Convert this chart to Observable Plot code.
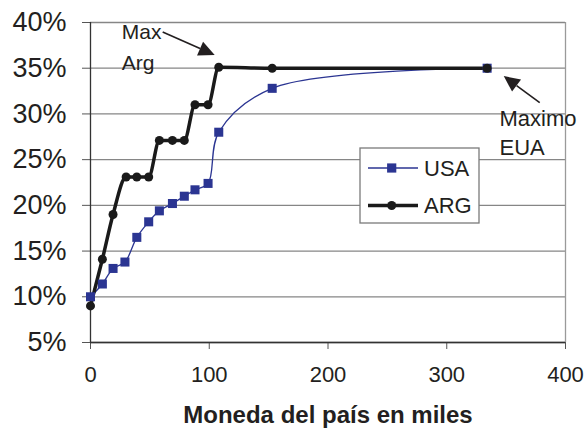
<!DOCTYPE html>
<html>
<head>
<meta charset="utf-8">
<script src="https://cdn.jsdelivr.net/npm/d3@7"></script>
<script src="https://cdn.jsdelivr.net/npm/@observablehq/plot@0.6"></script>
<style>
  html, body { margin: 0; padding: 0; background: #fff; }
  #chart svg { display: block; }
</style>
</head>
<body>
<div id="chart"></div>
<script>
// ---- data ----
const usaX = [0, 10, 19, 29, 39, 49, 58, 69, 79, 88, 99, 108, 153, 334];
const usaY = [10, 11.4, 13.1, 13.8, 16.5, 18.2, 19.4, 20.2, 21, 21.7, 22.4, 28, 32.8, 35];
const argX = [0, 10, 19, 30, 39, 49, 58, 69, 79, 88, 99, 108, 153, 334];
const argY = [9, 14.1, 19, 23.1, 23.1, 23.1, 27.1, 27.1, 27.1, 31, 31, 35.1, 35, 35];
const yTicks = [5, 10, 15, 20, 25, 30, 35, 40];
const xTicks = [0, 100, 200, 300, 400];
const seriesNames = ["USA", "ARG"];
const xTitle = "Moneda del país en miles";

const usa = usaX.map((x, i) => ({x, y: usaY[i]}));
const arg = argX.map((x, i) => ({x, y: argY[i]}));

const ink = "#231f20";
const blue = "#2b3592";
const dark = "#1a1a1a";
const grid = "#868686";
const font = "'Liberation Sans', Arial, sans-serif";

const plot = Plot.plot({
  width: 584,
  height: 428,
  marginLeft: 90,
  marginRight: 19,
  marginTop: 22,
  marginBottom: 86,
  style: {fontFamily: font, color: ink, background: "#fff", overflow: "visible"},
  x: {domain: [0, 400]},
  y: {domain: [5, 40]},
  marks: [
    Plot.ruleY(yTicks, {stroke: grid, strokeWidth: 1.3}),
    Plot.ruleX([400], {stroke: "#9a9a9a", strokeWidth: 1.3}),
    Plot.axisY({ticks: yTicks, tickSize: 8, tickPadding: 16, fontSize: 27, tickFormat: d => d + "%", label: null, stroke: "#555", fill: ink}),
    Plot.axisX({ticks: xTicks, tickSize: 7, tickPadding: 17, fontSize: 22, label: null, stroke: "#555", fill: ink}),
    Plot.ruleY([5], {stroke: "#333", strokeWidth: 1.3}),
    Plot.ruleX([0], {stroke: "#333", strokeWidth: 1.3}),
    Plot.line(usa, {x: "x", y: "y", stroke: blue, strokeWidth: 1.3, curve: "catmull-rom"}),
    Plot.line(arg, {x: "x", y: "y", stroke: dark, strokeWidth: 3.5, curve: "monotone-x"}),
    Plot.dot(usa, {x: "x", y: "y", symbol: "square", r: 5.1, fill: blue, stroke: null}),
    Plot.dot(arg, {x: "x", y: "y", symbol: "circle", r: 4.5, fill: dark, stroke: null}),
    Plot.text(["Max"], {x: 26.4, y: 38.93, text: d => d, textAnchor: "start", lineAnchor: "middle", fontSize: 21, fill: ink}),
    Plot.text(["Arg"], {x: 26.4, y: 35.52, text: d => d, textAnchor: "start", lineAnchor: "middle", fontSize: 21, fill: ink}),
    Plot.text(["Maximo"], {x: 344.4, y: 29.42, text: d => d, textAnchor: "start", lineAnchor: "middle", fontSize: 22, fill: ink}),
    Plot.text(["EUA"], {x: 344.4, y: 26.25, text: d => d, textAnchor: "start", lineAnchor: "middle", fontSize: 22, fill: ink}),
    Plot.text([xTitle], {frameAnchor: "bottom", dy: 73, text: d => d, lineAnchor: "middle", fontSize: 24, fontWeight: "bold", fill: ink})
  ]
});

document.getElementById("chart").appendChild(plot);

// ---- arrows with filled heads, placed via the plot's scales ----
const sx = plot.scale("x"), sy = plot.scale("y");
const svg = d3.select(plot);
const arrows = [
  {x1: 61.2, y1: 38.9, x2: 105, y2: 36.39},
  {x1: 378.7, y1: 31.17, x2: 348.4, y2: 34.09}
];
const ag = svg.append("g");
for (const a of arrows) {
  const X1 = sx.apply(a.x1), Y1 = sy.apply(a.y1), X2 = sx.apply(a.x2), Y2 = sy.apply(a.y2);
  const ang = Math.atan2(Y2 - Y1, X2 - X1);
  const L = 16, W = 7.5;
  const bx = X2 - L * Math.cos(ang), by = Y2 - L * Math.sin(ang);
  ag.append("line").attr("x1", X1).attr("y1", Y1).attr("x2", bx).attr("y2", by)
    .attr("stroke", ink).attr("stroke-width", 1.6);
  const px = -Math.sin(ang), py = Math.cos(ang);
  ag.append("path")
    .attr("d", `M${X2},${Y2}L${bx + W * px},${by + W * py}L${bx - W * px},${by - W * py}Z`)
    .attr("fill", ink);
}

// ---- legend box (inside the plot area) ----
const lg = svg.append("g").attr("transform", "translate(360,148)");
lg.append("rect").attr("width", 119).attr("height", 75).attr("fill", "#fff")
  .attr("stroke", "#7a7a7a").attr("stroke-width", 1.3);
const rows = [
  {name: seriesNames[0], color: blue, w: 1.3, sym: "square", cy: 20},
  {name: seriesNames[1], color: dark, w: 3.5, sym: "circle", cy: 57.5}
];
for (const r of rows) {
  lg.append("line").attr("x1", 8).attr("x2", 58).attr("y1", r.cy).attr("y2", r.cy)
    .attr("stroke", r.color).attr("stroke-width", r.w);
  if (r.sym === "square") {
    lg.append("rect").attr("x", 31.7 - 4.6).attr("y", r.cy - 4.6).attr("width", 9.2).attr("height", 9.2).attr("fill", r.color);
  } else {
    lg.append("circle").attr("cx", 31.7).attr("cy", r.cy).attr("r", 4.5).attr("fill", r.color);
  }
  lg.append("text").attr("x", 64).attr("y", r.cy).attr("dy", "0.35em").attr("text-anchor", "start")
    .attr("font-size", 22).attr("font-family", font).attr("fill", ink).text(r.name);
}
</script>
</body>
</html>
